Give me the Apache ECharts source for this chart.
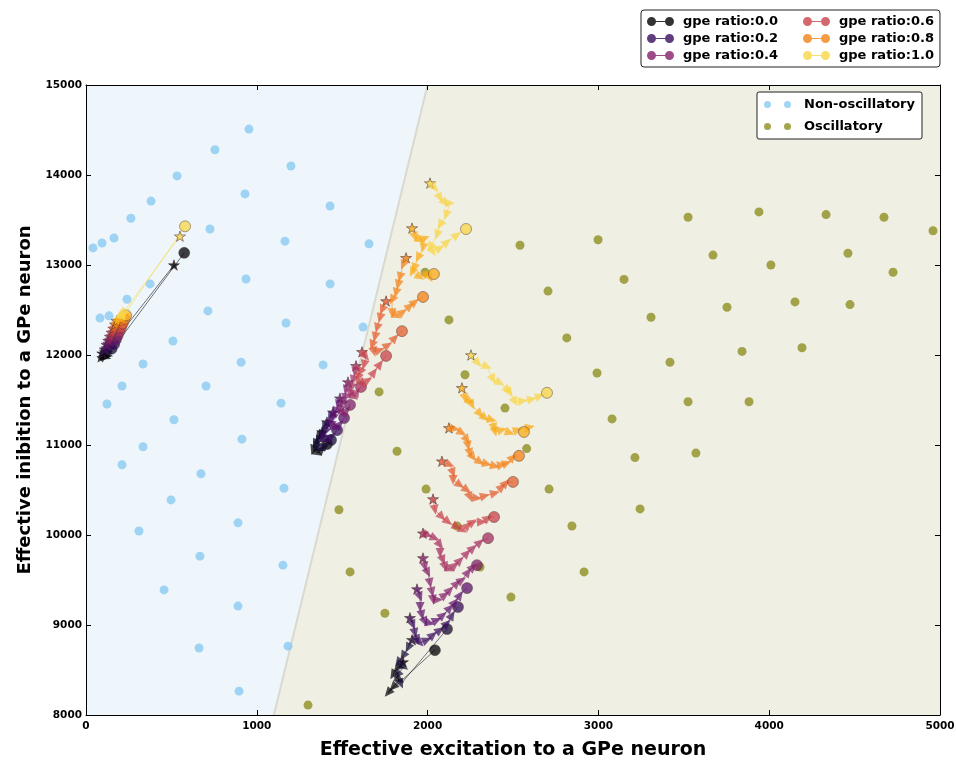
<!DOCTYPE html>
<html><head><meta charset="utf-8">
<script src="https://cdn.jsdelivr.net/npm/echarts@6/dist/echarts.min.js"></script>
<style>html,body{margin:0;padding:0;background:#fff}#chart{width:956px;height:760px}</style>
</head><body><div id="chart"></div>
<script>
// ---------------- data ----------------
const xTicks = [0, 1000, 2000, 3000, 4000, 5000];
const yTicks = [8000, 9000, 10000, 11000, 12000, 13000, 14000, 15000];
const boundary = [[1100, 8000], [2000, 15000]];
const regionPolygons = [
  [[0, 8000], [1100, 8000], [2000, 15000], [0, 15000]],
  [[1100, 8000], [5000, 8000], [5000, 15000], [2000, 15000]]
];
const nonOscillatory = [
  [954,14510],[755,14280],[1200,14100],[533,13990],[381,13710],[931,13790],[1429,13655],[263,13520],
  [164,13300],[94,13245],[41,13190],[726,13400],[1165,13265],[1657,13235],[937,12845],[375,12790],
  [1429,12790],[240,12620],[135,12435],[82,12410],[714,12490],[1171,12355],[1622,12310],[509,12155],
  [334,11900],[908,11920],[1388,11890],[703,11655],[211,11655],[123,11455],[1142,11465],[515,11280],
  [913,11065],[334,10980],[211,10780],[673,10680],[1159,10520],[498,10390],[890,10135],[310,10045],
  [667,9765],[1153,9665],[457,9390],[890,9210],[662,8745],[1183,8765],[896,8265]
];
const oscillatory = [
  [1300,8110],[1481,10280],[1546,9590],[1750,9130],[1821,10930],[1716,11590],[2125,12390],[1991,10510],
  [2219,11780],[2453,11410],[2580,10960],[2815,12190],[1985,12920],[2541,13220],[2705,12710],[2998,13280],
  [3150,12840],[3308,12420],[3419,11920],[2992,11800],[3080,11290],[2711,10510],[2845,10100],[2916,9590],
  [2488,9310],[3214,10860],[3244,10290],[3525,13530],[3671,13110],[3753,12530],[3841,12040],[3882,11480],
  [3525,11480],[3571,10910],[3940,13590],[4010,13000],[4151,12590],[4192,12080],[4333,13560],[4461,13130],
  [4473,12560],[4672,13530],[4725,12920],[4959,13380],[2307,9645],[2172,10100]
];
const ratios = [0.0, 0.1, 0.2, 0.3, 0.4, 0.5, 0.6, 0.7, 0.8, 0.9, 1.0];
const ratioColors = ['#000004','#160a35','#380c5b','#5e136c','#83206a','#a72d5f','#c94148','#e35d2f','#f48216','#faab16','#f8d647'];
const legendOrder = ['gpe ratio:0.0','gpe ratio:0.6','gpe ratio:0.2','gpe ratio:0.8','gpe ratio:0.4','gpe ratio:1.0'];

// trajectories (first point = start star, last point = end circle)
const group1Paths = [
  [[1856,8590],[1821,8520],[1797,8445],[1838,8390],[1797,8310],[1768,8245],[2043,8720]],
  [[1909,8835],[1885,8745],[1856,8655],[1827,8580],[1862,8535],[1821,8445],[1844,8345],[2114,8955]],
  [[1897,9080],[1915,9000],[1926,8910],[1938,8835],[1956,8800],[1997,8835],[2032,8890],[2073,8945],[2114,9020],[2143,9110],[2178,9200]],
  [[1938,9400],[1956,9310],[1956,9200],[1967,9110],[1985,9035],[2014,9020],[2055,9055],[2090,9110],[2131,9190],[2160,9255],[2190,9335],[2231,9410]],
  [[1973,9745],[1985,9645],[2002,9580],[2014,9465],[2026,9365],[2032,9280],[2061,9280],[2102,9335],[2131,9390],[2172,9465],[2201,9500],[2237,9590],[2266,9645],[2289,9665]],
  [[1973,10020],[2002,10000],[2043,9965],[2073,9890],[2073,9800],[2090,9720],[2102,9645],[2131,9620],[2160,9665],[2190,9720],[2231,9800],[2266,9855],[2307,9920],[2354,9965]],
  [[2032,10400],[2043,10280],[2084,10200],[2120,10145],[2172,10090],[2207,10055],[2237,10110],[2266,10145],[2319,10145],[2354,10190],[2389,10200]],
  [[2084,10820],[2131,10780],[2149,10690],[2149,10610],[2190,10555],[2231,10500],[2248,10420],[2289,10410],[2336,10435],[2395,10465],[2436,10535],[2459,10580],[2500,10590]],
  [[2125,11190],[2160,11180],[2201,11135],[2231,11055],[2237,10990],[2248,10910],[2266,10865],[2307,10810],[2348,10790],[2395,10765],[2436,10780],[2465,10800],[2500,10865],[2535,10880]],
  [[2201,11635],[2219,11520],[2248,11490],[2260,11445],[2307,11345],[2336,11300],[2377,11280],[2389,11190],[2395,11145],[2436,11170],[2482,11135],[2529,11170],[2600,11200],[2564,11145]],
  [[2254,12000],[2295,11910],[2348,11870],[2383,11730],[2424,11690],[2471,11610],[2482,11580],[2512,11480],[2558,11490],[2611,11510],[2658,11545],[2699,11580]]
];
const group2Paths = [
  [[1382,11145],[1358,11080],[1341,11010],[1329,10945],[1358,10910],[1382,10955],[1411,11010]],
  [[1411,11255],[1394,11190],[1376,11110],[1358,11045],[1347,10980],[1376,10955],[1405,11000],[1435,11055]],
  [[1446,11365],[1429,11300],[1417,11220],[1399,11145],[1382,11080],[1411,11055],[1440,11100],[1470,11165]],
  [[1487,11520],[1476,11445],[1458,11365],[1446,11300],[1435,11220],[1464,11190],[1487,11235],[1511,11300]],
  [[1534,11700],[1522,11610],[1517,11520],[1499,11455],[1487,11390],[1505,11345],[1528,11390],[1546,11445]],
  [[1581,11880],[1575,11810],[1563,11720],[1552,11635],[1546,11565],[1569,11535],[1587,11590],[1610,11645]],
  [[1616,12035],[1639,11980],[1628,11890],[1604,11810],[1592,11745],[1616,11680],[1651,11720],[1686,11810],[1721,11900],[1757,11990]],
  [[1757,12600],[1733,12500],[1721,12410],[1704,12300],[1692,12200],[1675,12110],[1686,12035],[1721,12055],[1768,12110],[1809,12190],[1850,12265]],
  [[1874,13080],[1856,13000],[1838,12865],[1827,12780],[1815,12690],[1792,12610],[1792,12465],[1821,12435],[1856,12480],[1897,12545],[1926,12590],[1973,12645]],
  [[1909,13410],[1926,13310],[1956,13280],[1985,13300],[1973,13190],[1944,13080],[1921,12965],[1909,12920],[1956,12865],[1997,12910],[2014,12855],[2037,12900]],
  [[2014,13910],[2043,13855],[2073,13745],[2102,13690],[2131,13690],[2108,13555],[2073,13445],[2055,13335],[2014,13200],[2032,13145],[2073,13190],[2114,13255],[2172,13335],[2225,13400]]
];
const group3Paths = [
  [[515,13000],[85,11960],[100,11990],[120,11975],[110,12010],[130,12000],[575,13135]],
  [[95,12020],[115,12040],[130,12030],[120,12060],[150,12070]],
  [[110,12065],[125,12090],[140,12080],[135,12110],[165,12120]],
  [[120,12115],[135,12135],[150,12125],[145,12160],[175,12170]],
  [[130,12160],[145,12185],[160,12175],[155,12205],[185,12215]],
  [[140,12205],[155,12230],[170,12220],[165,12255],[195,12260]],
  [[150,12250],[165,12275],[180,12265],[175,12300],[205,12305]],
  [[160,12295],[175,12320],[190,12310],[185,12345],[215,12350]],
  [[170,12340],[185,12365],[200,12355],[195,12390],[225,12400]],
  [[180,12380],[195,12405],[210,12395],[205,12430],[235,12440]],
  [[550,13320],[215,12465],[195,12440],[210,12420],[225,12450],[580,13430]]
];
const annoText = ['1', '2', '3'];
const annoPos = [[2078, 8780], [1557, 11100], [650, 13056]];

// ---------------- styling / build ----------------
const STAR = 'path://M50,0L61.2,34.5L97.6,34.5L68.2,55.9L79.4,90.5L50,69.1L20.6,90.5L31.8,55.9L2.4,34.5L38.8,34.5Z';
const LINE_ICON = 'path://M4.5,0A4.5,4.5 0 1,1 4.5,9A4.5,4.5 0 1,1 4.5,0Z M8,4 L19,4 L19,5 L8,5Z M22.5,0A4.5,4.5 0 1,1 22.5,9A4.5,4.5 0 1,1 22.5,0Z';
const DOTS_ICON = 'path://M3.5,0A3.5,3.5 0 1,1 3.5,7A3.5,3.5 0 1,1 3.5,0Z M23.5,0A3.5,3.5 0 1,1 23.5,7A3.5,3.5 0 1,1 23.5,0Z';
const FONT = 'DejaVu Sans';
const groups = [group1Paths, group2Paths, group3Paths];

function trajData(path, col, rots) {
  const last = path.length - 1;
  return path.map((pt, i) => {
    if (i === 0) return {value: pt, symbol: STAR, symbolSize: 11,
      itemStyle: {color: col, opacity: 0.8, borderColor: 'rgba(70,45,40,0.85)', borderWidth: 0.8}};
    if (i === last) return {value: pt, symbol: 'circle', symbolSize: 11,
      itemStyle: {color: col, opacity: 0.75, borderColor: 'rgba(70,50,40,0.6)', borderWidth: 1}};
    return {value: pt, symbol: 'triangle', symbolSize: [9, 10], symbolRotate: rots ? rots[i] : 0,
      itemStyle: {color: col, opacity: 0.7}};
  });
}

function makeOption(rotations) {
  const series = [];
  series.push({type: 'custom', name: 'regions', silent: true, z: 1, clip: false,
    renderItem: (params, api) => {
      const poly = regionPolygons[params.dataIndex];
      return {type: 'polygon', shape: {points: poly.map(p => api.coord(p))},
        style: {fill: params.dataIndex === 0 ? '#eef6fc' : '#f0efe4'}};
    },
    data: regionPolygons.map(p => p[0])});
  series.push({type: 'line', name: 'boundary', data: boundary, symbol: 'none', silent: true,
    lineStyle: {color: '#d9d9cf', width: 2}, z: 2});
  series.push({type: 'scatter', name: 'Non-oscillatory', data: nonOscillatory, symbolSize: 9,
    itemStyle: {color: '#89cbf1'}, z: 3});
  series.push({type: 'scatter', name: 'Oscillatory', data: oscillatory, symbolSize: 9,
    itemStyle: {color: '#8f8f22'}, z: 3});
  groups.forEach((grp, gi) => grp.forEach((path, ri) => {
    const col = ratioColors[ri];
    series.push({type: 'line', name: 'gpe ratio:' + ratios[ri].toFixed(1),
      data: trajData(path, col, rotations ? rotations[gi][ri] : null),
      showSymbol: true, showAllSymbol: true, symbolKeepAspect: true,
      lineStyle: {color: col, width: 1, opacity: 0.55},
      itemStyle: {color: col, opacity: 0.8},
      emphasis: {disabled: true}, z: 5, clip: false});
  }));
  series.push({type: 'scatter', name: 'labels', silent: true, symbolSize: 1, itemStyle: {opacity: 0},
    data: annoPos.map((p, i) => ({value: p, label: {formatter: annoText[i]}})),
    label: {show: true, position: 'inside', color: '#e8252a', fontSize: 16, fontWeight: 'bold', fontFamily: FONT},
    z: 8});

  const axLabel = {color: '#000', fontWeight: 'bold', fontSize: 10.5, fontFamily: FONT, formatter: v => String(v)};
  const axLine = {onZero: false, lineStyle: {color: '#000', width: 1}};
  const axTick = {inside: true, length: 5, lineStyle: {color: '#000'}};
  const richBase = {fontFamily: FONT, fontWeight: 'bold', fontSize: 13, color: '#000', lineHeight: 16, padding: [0, 0, 0, 4]};
  return {
    animation: false,
    grid: {left: 86, top: 85, width: 854, height: 630, containLabel: false, outerBoundsMode: 'none'},
    xAxis: [
      {type: 'value', min: xTicks[0], max: xTicks[xTicks.length - 1], interval: xTicks[1] - xTicks[0],
        position: 'bottom', name: 'Effective excitation to a GPe neuron', nameLocation: 'middle', nameGap: 26,
        nameTextStyle: {fontFamily: FONT, fontWeight: 'bold', fontSize: 19, color: '#000'},
        axisLine: axLine, axisTick: axTick, axisLabel: Object.assign({margin: 6}, axLabel),
        splitLine: {show: false}, z: 10},
      {type: 'value', min: xTicks[0], max: xTicks[xTicks.length - 1], interval: xTicks[1] - xTicks[0],
        position: 'top', axisLine: axLine, axisTick: axTick, axisLabel: {show: false}, splitLine: {show: false}, z: 10}
    ],
    yAxis: [
      {type: 'value', min: yTicks[0], max: yTicks[yTicks.length - 1], interval: yTicks[1] - yTicks[0],
        position: 'left', name: 'Effective inibition to a GPe neuron', nameLocation: 'middle', nameGap: 52,
        nameTextStyle: {fontFamily: FONT, fontWeight: 'bold', fontSize: 18, color: '#000'},
        axisLine: axLine, axisTick: axTick, axisLabel: Object.assign({margin: 4}, axLabel),
        splitLine: {show: false}, z: 10},
      {type: 'value', min: yTicks[0], max: yTicks[yTicks.length - 1], interval: yTicks[1] - yTicks[0],
        position: 'right', axisLine: axLine, axisTick: axTick, axisLabel: {show: false}, splitLine: {show: false}, z: 10}
    ],
    legend: [
      {data: legendOrder, left: 641, top: 10, orient: 'horizontal', width: 330,
        itemWidth: 27, itemHeight: 9, itemGap: 4, icon: LINE_ICON, padding: [5, 6, 5, 6],
        selectedMode: false, borderColor: '#222', borderWidth: 1, borderRadius: 3, backgroundColor: '#fff',
        formatter: name => (legendOrder.indexOf(name) % 2 === 0 ? '{c1|' : '{c2|') + name + '}',
        textStyle: {fontFamily: FONT, fontWeight: 'bold', fontSize: 13, color: '#000',
          rich: {c1: Object.assign({width: 116}, richBase), c2: Object.assign({}, richBase)}}},
      {data: ['Non-oscillatory', 'Oscillatory'], left: 757, top: 92, orient: 'vertical',
        itemWidth: 27, itemHeight: 7, itemGap: 7, icon: DOTS_ICON, padding: [5, 7, 5, 7],
        selectedMode: false, borderColor: '#222', borderWidth: 1, borderRadius: 2, backgroundColor: '#fff',
        textStyle: {fontFamily: FONT, fontWeight: 'bold', fontSize: 13, color: '#000', lineHeight: 15,
          padding: [0, 0, 0, 8]}}
    ],
    series: series
  };
}

const chart = echarts.init(document.getElementById('chart'));
chart.setOption(makeOption(null));
// orient triangles along the direction of travel (pixel space)
const rotations = groups.map(grp => grp.map(path => path.map((pt, i) => {
  if (i === 0 || i === path.length - 1) return 0;
  const a = chart.convertToPixel({gridIndex: 0}, path[i - 1]);
  const b = chart.convertToPixel({gridIndex: 0}, pt);
  const ang = Math.atan2(-(b[1] - a[1]), b[0] - a[0]) * 180 / Math.PI;
  return ang - 90;
})));
chart.setOption(makeOption(rotations), true);
</script>
</body></html>
